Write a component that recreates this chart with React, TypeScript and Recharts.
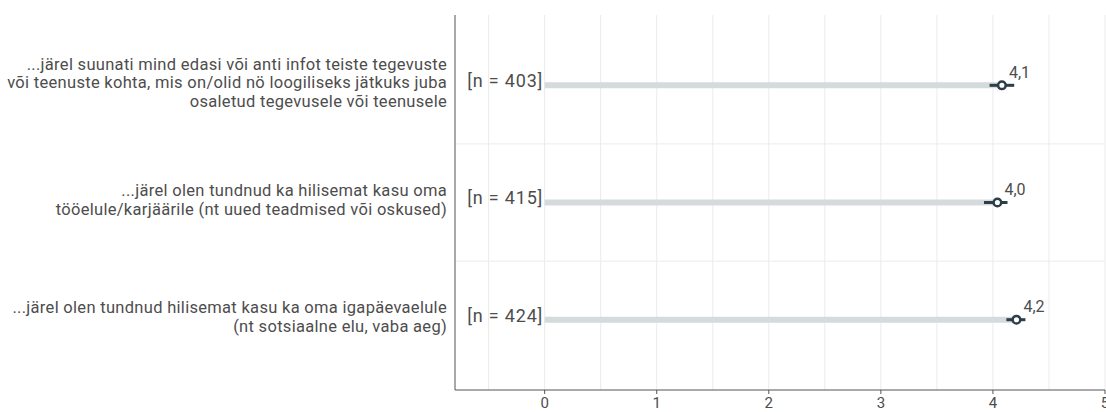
import {
  ScatterChart,
  Scatter,
  XAxis,
  YAxis,
  ErrorBar,
  ReferenceLine,
  LabelList,
} from "recharts";

const labelLines = [
  [
    "...järel suunati mind edasi või anti infot teiste tegevuste",
    "või teenuste kohta, mis on/olid nö loogiliseks jätkuks juba",
    "osaletud tegevusele või teenusele",
  ],
  [
    "...järel olen tundnud ka hilisemat kasu oma",
    "tööelule/karjäärile (nt uued teadmised või oskused)",
  ],
  [
    "...järel olen tundnud hilisemat kasu ka oma igapäevaelule",
    "(nt sotsiaalne elu, vaba aeg)",
  ],
];

const nValues = [403, 415, 424];
const means = [4.08, 4.04, 4.21];
const lowers = [3.97, 3.92, 4.12];
const uppers = [4.19, 4.13, 4.29];
const meanLabels = ["4,1", "4,0", "4,2"];
const xTicks = [0, 1, 2, 3, 4, 5];
const gridX = [-0.5, 0, 0.5, 1, 1.5, 2, 2.5, 3, 3.5, 4, 4.5, 5];
const gridY = [1.5, 2.5];

const data = means.map((m, i) => ({
  y: i + 1,
  x: m,
  err: [m - lowers[i], uppers[i] - m],
  label: meanLabels[i],
  n: nValues[i],
}));

const nData = nValues.map((n, i) => ({ y: i + 1, x: 0, n }));

const FONT = "Roboto, sans-serif";
const DARK = "#2c3e4a";
const TEXT = "#4d4d4d";

function CategoryTick(props: any) {
  const { y, payload } = props;
  const lines = labelLines[payload.value - 1] || [];
  const lh = 18.5;
  const start = y - 3 - ((lines.length - 1) * lh) / 2;
  return (
    <text
      x={447}
      y={start}
      textAnchor="end"
      fill={TEXT}
      fontSize={16.5}
      letterSpacing={0.3}
      fontFamily={FONT}
      dominantBaseline="central"
    >
      {lines.map((l, i) => (
        <tspan key={i} x={447} y={start + i * lh}>
          {l}
        </tspan>
      ))}
    </text>
  );
}

export default function App() {
  return (
    <div
      style={{
        position: "absolute",
        left: 0,
        top: 0,
        width: 1106,
        height: 412,
        overflow: "hidden",
        background: "#fff",
      }}
    >
      <ScatterChart
        width={1125}
        height={412}
        margin={{ top: 15, right: 20, bottom: 0, left: 0 }}
      >
        <XAxis
          type="number"
          dataKey="x"
          domain={[-0.8, 5]}
          ticks={xTicks}
          allowDataOverflow
          height={22}
          tickSize={4}
          tickMargin={3}
          stroke="#555"
          tick={{ fill: TEXT, fontSize: 15, fontFamily: FONT }}
        />
        <YAxis
          type="number"
          dataKey="y"
          domain={[0.4, 3.6]}
          ticks={[1, 2, 3]}
          reversed
          allowDataOverflow
          width={455}
          tickLine={false}
          stroke="#555"
          tick={<CategoryTick />}
        />
        {gridX.map((v) => (
          <ReferenceLine key={"gx" + v} x={v} stroke="#ebebeb" strokeWidth={1} />
        ))}
        {gridY.map((v) => (
          <ReferenceLine key={"gy" + v} y={v} stroke="#ebebeb" strokeWidth={1} />
        ))}
        {data.map((d) => (
          <ReferenceLine
            key={"bar" + d.y}
            segment={[
              { x: 0, y: d.y },
              { x: d.x, y: d.y },
            ]}
            stroke="#d5dadc"
            strokeWidth={6}
          />
        ))}
        <Scatter
          data={nData}
          isAnimationActive={false}
          shape={() => <g />}
        >
          <LabelList
            dataKey="n"
            content={(p: any) => (
              <text
                x={p.x + 3}
                y={p.y}
                textAnchor="end"
                dominantBaseline="central"
                fill={TEXT}
                fontSize={18}
                letterSpacing={0.8}
                fontFamily={FONT}
              >
                {`[n = ${p.value}]`}
              </text>
            )}
          />
        </Scatter>
        <Scatter
          data={data}
          isAnimationActive={false}
          shape={(p: any) => (
            <circle
              cx={p.cx}
              cy={p.cy}
              r={3.8}
              fill="#fff"
              stroke={DARK}
              strokeWidth={2.5}
            />
          )}
        >
          <ErrorBar
            dataKey="err"
            direction="x"
            width={0}
            stroke={DARK}
            strokeWidth={3}
          />
          <LabelList
            dataKey="label"
            content={(p: any) => (
              <text
                x={p.x + p.width / 2 + 7}
                y={p.y + p.height / 2 - 13}
                dominantBaseline="central"
                fill={TEXT}
                fontSize={16}
                fontFamily={FONT}
              >
                {p.value}
              </text>
            )}
          />
        </Scatter>
      </ScatterChart>
    </div>
  );
}
